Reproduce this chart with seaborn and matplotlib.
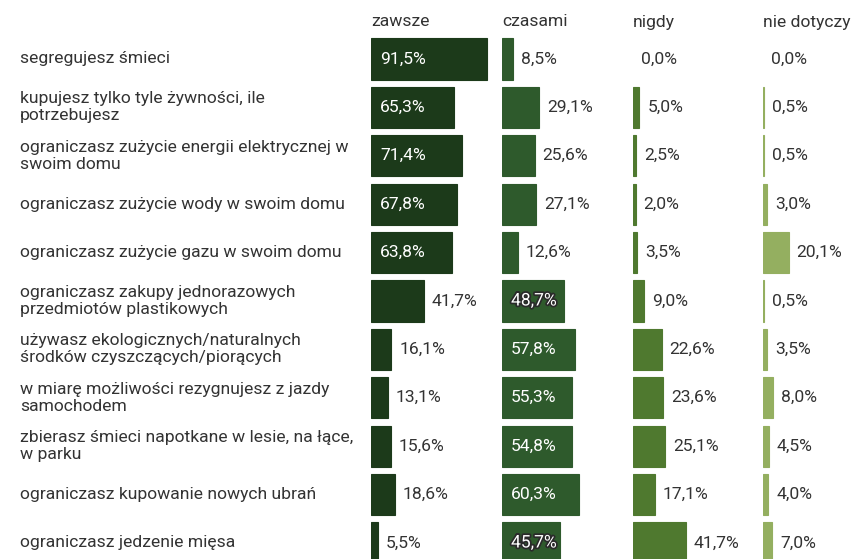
import pandas as pd
import matplotlib.pyplot as plt
import matplotlib.patheffects as pe
from matplotlib.transforms import blended_transform_factory
import seaborn as sns

# Data
categories = [
    "segregujesz śmieci",
    "kupujesz tylko tyle żywności, ile\npotrzebujesz",
    "ograniczasz zużycie energii elektrycznej w\nswoim domu",
    "ograniczasz zużycie wody w swoim domu",
    "ograniczasz zużycie gazu w swoim domu",
    "ograniczasz zakupy jednorazowych\nprzedmiotów plastikowych",
    "używasz ekologicznych/naturalnych\nśrodków czyszczących/piorących",
    "w miarę możliwości rezygnujesz z jazdy\nsamochodem",
    "zbierasz śmieci napotkane w lesie, na łące,\nw parku",
    "ograniczasz kupowanie nowych ubrań",
    "ograniczasz jedzenie mięsa",
]
zawsze = [91.5, 65.3, 71.4, 67.8, 63.8, 41.7, 16.1, 13.1, 15.6, 18.6, 5.5]
czasami = [8.5, 29.1, 25.6, 27.1, 12.6, 48.7, 57.8, 55.3, 54.8, 60.3, 45.7]
nigdy = [0.0, 5.0, 2.5, 2.0, 3.5, 9.0, 22.6, 23.6, 25.1, 17.1, 41.7]
nie_dotyczy = [0.0, 0.5, 0.5, 3.0, 20.1, 0.5, 3.5, 8.0, 4.5, 4.0, 7.0]
headers = ["zawsze", "czasami", "nigdy", "nie dotyczy"]
colors = ["#1c3a1a", "#2e5a2c", "#4f792f", "#94af60"]

df = pd.DataFrame({"kategoria": categories, "zawsze": zawsze, "czasami": czasami,
                   "nigdy": nigdy, "nie dotyczy": nie_dotyczy})

sns.set_theme(style="white")
plt.rcParams["font.family"] = ["Roboto", "DejaVu Sans"]

W, H = 854, 559
fig = plt.figure(figsize=(W / 100, H / 100), dpi=100)

# layout in pixels
col_left = [371, 502, 633, 763]
col_w = 130
px_per_pct = 1.27
top_px, row0, step = 35, 59, 48.4
text_col = "#333333"
fs = 12.6

axes = []
for j, name in enumerate(headers):
    ax = fig.add_axes([col_left[j] / W, 0, col_w / W, (H - top_px) / H])
    sns.barplot(data=df, x=name, y="kategoria", orient="h", color=colors[j],
                saturation=1, width=0.85, ax=ax)
    # thin outline so tiny values (0,5%) still show as a hairline
    for p in ax.patches:
        if p.get_width() > 0:
            p.set_edgecolor(colors[j])
            p.set_linewidth(0.8)
        else:
            p.set_linewidth(0)
    ax.set_xlim(0, col_w / px_per_pct)
    ax.set_ylim((H - row0) / step, (top_px - row0) / step)
    ax.set_axis_off()

    for i, v in enumerate(df[name]):
        lbl = f"{v:.1f}%".replace(".", ",")
        if v >= 45:
            t = ax.annotate(lbl, (0, i), xytext=(9, 0), textcoords="offset pixels",
                            va="center", ha="left", color="white", fontsize=fs)
            if v < 50:
                t.set_path_effects([pe.withStroke(linewidth=2.5, foreground="#2a2a2a")])
        else:
            ax.annotate(lbl, (v, i), xytext=(8, 0), textcoords="offset pixels",
                        va="center", ha="left", color=text_col, fontsize=fs)

    fig.text(col_left[j] / W, 1 - 22 / H, name, ha="left", va="center",
             color=text_col, fontsize=fs)
    axes.append(ax)

# row labels on the left
tr = blended_transform_factory(fig.transFigure, axes[0].transData)
for i, cat in enumerate(categories):
    axes[0].text(20 / W, i, cat, transform=tr, ha="left", va="center",
                 color=text_col, fontsize=fs, linespacing=1.15)

plt.savefig("out.png", dpi=100)
